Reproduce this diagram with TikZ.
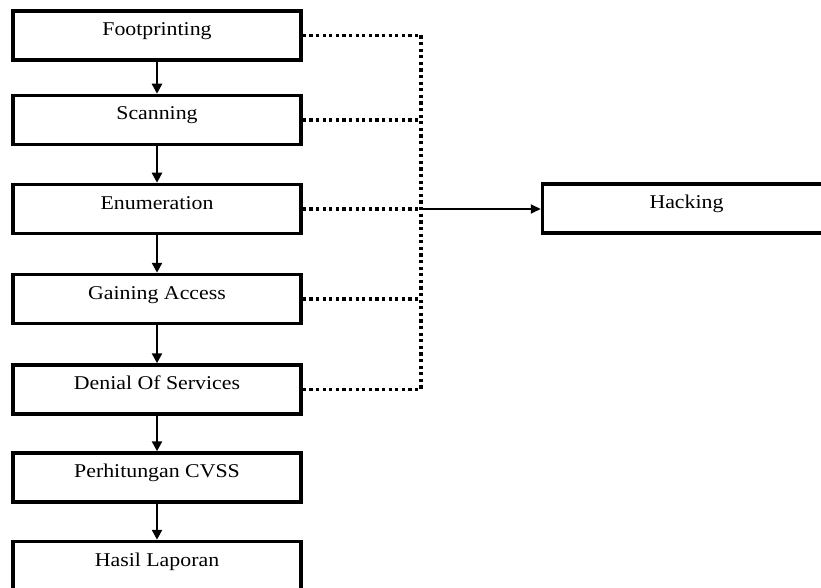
\documentclass[tikz,border=0pt]{standalone}
\usepackage{fontspec}
\setmainfont{Liberation Serif}[FakeStretch=1.12]
\usepackage{tikz}
\usetikzlibrary{arrows.meta,positioning,calc}

\begin{document}
\begin{tikzpicture}[x=1pt,y=-1pt,
    stagebox/.style={draw, line width=3.5pt, minimum width=288pt, minimum height=49pt,
        text height=10pt, text depth=10pt, inner sep=0pt,
        font=\fontsize{19.5}{23}\selectfont},
    flow/.style={line width=2.4pt, -{Triangle[width=10pt,length=10pt]}},
    dotline/.style={line width=3.2pt, dash pattern=on 3.2pt off 3.4pt}]
    \useasboundingbox (0,0) rectangle (821,588);

    % tahapan
    \node[stagebox] (foot) at (157,35.5) {Footprinting};
    \node[stagebox] (scan) at (157,120) {Scanning};
    \node[stagebox] (enum) at (157,209) {Enumeration};
    \node[stagebox] (gain) at (157,299) {Gaining Access};
    \node[stagebox] (dos) at (157,389.5) {Denial Of Services};
    \node[stagebox] (cvss) at (157,477.5) {Perhitungan CVSS};
    \node[stagebox] (hasil) at (157,566) {Hasil Laporan};
    \node[stagebox, minimum width=300pt] (hack) at (692.5,208.5) {};
    \node[font=\fontsize{19.5}{23}\selectfont, text height=10pt, text depth=10pt, inner sep=0pt] (hacklbl) at (686.5,208.5) {Hacking};

    \draw[flow] (foot) -- (scan);
    \draw[flow] (scan) -- (enum);
    \draw[flow] (enum) -- (gain);
    \draw[flow] (gain) -- (dos);
    \draw[flow] (dos) -- (cvss);
    \draw[flow] (cvss) -- (hasil);

    % garis putus ke hacking
    \coordinate (jn) at (421,209);
    \foreach \s in {foot,scan,enum,gain,dos} {\draw[dotline] (\s.east) -- (\s.east -| jn);}
    \draw[dotline] (foot.east -| jn) -- (dos.east -| jn);
    \draw[line width=2pt, -{Triangle[width=9pt,length=10pt]}] (jn) -- (hack.west |- jn);
\end{tikzpicture}
\end{document}
